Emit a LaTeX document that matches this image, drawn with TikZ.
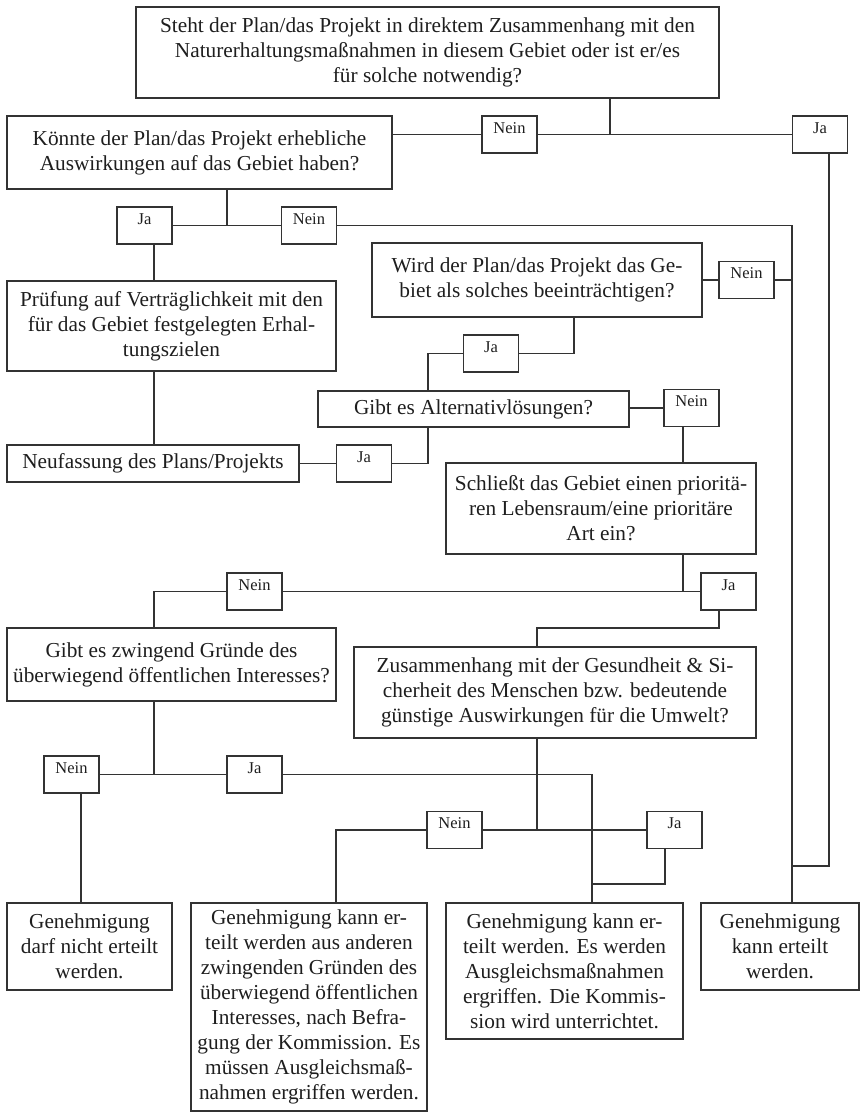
\documentclass[tikz,border=0pt]{standalone}
\usepackage{fontspec}
\setmainfont{Liberation Serif}
\definecolor{lc}{HTML}{333333}
\definecolor{tc}{HTML}{1E1E1E}
\tikzset{
  box/.style={draw=lc, line width=1.3pt, inner sep=0pt, align=center, text=tc,
    font=\fontsize{21.3}{25}\selectfont},
  lab/.style={draw=lc, line width=1.2pt, inner sep=0pt, minimum width=55pt,
    text height=17pt, text depth=20pt, text=tc, font=\fontsize{16.5}{18}\selectfont},
  wire/.style={draw=lc, line width=1.1pt},
}
\begin{document}
\begin{tikzpicture}[x=1pt,y=-1pt]
\useasboundingbox (0,0) rectangle (861,1113);
% main boxes
\node[box, minimum width=583pt, minimum height=91pt] (q1) at (427.5,52.5)
  {Steht der Plan/das Projekt in direktem Zusammenhang mit den\\ Naturerhaltungsmaßnahmen in diesem Gebiet oder ist er/es\\ für solche notwendig?};
\node[box, minimum width=385pt, minimum height=73pt] (q2) at (199.5,152.5)
  {Könnte der Plan/das Projekt erhebliche\\ Auswirkungen auf das Gebiet haben?};
\node[box, minimum width=329pt, minimum height=90pt] (pruef) at (171.5,326)
  {Prüfung auf Verträglichkeit mit den\\ für das Gebiet festgelegten Erhal-\\ tungszielen};
\node[box, minimum width=292pt, minimum height=37pt] (neuf) at (153,463.5)
  {Neufassung des Plans/Projekts};
\node[box, minimum width=330pt, minimum height=74pt] (wird) at (537,280)
  {Wird der Plan/das Projekt das Ge-\\ biet als solches beeinträchtigen?};
\node[box, minimum width=311pt, minimum height=36pt] (alt) at (473.5,409)
  {Gibt es Alternativlösungen?};
\node[box, minimum width=310pt, minimum height=91pt] (schl) at (601,508.5)
  {Schließt das Gebiet einen prioritä-\\ ren Lebensraum/eine prioritäre\\ Art ein?};
\node[box, minimum width=329pt, minimum height=73pt] (gibt) at (171.5,664.5)
  {Gibt es zwingend Gründe des\\ überwiegend öffentlichen Interesses?};
\node[box, minimum width=402pt, minimum height=91pt] (zus) at (555,692.5)
  {Zusammenhang mit der Gesundheit \& Si-\\ cherheit des Menschen bzw. bedeutende\\ günstige Auswirkungen für die Umwelt?};
\node[box, minimum width=165pt, minimum height=87pt] (end1) at (89.5,946.5)
  {Genehmigung\\ darf nicht erteilt\\ werden.};
\node[box, minimum width=236pt, minimum height=208pt] (end2) at (309,1007)
  {Genehmigung kann er-\\ teilt werden aus anderen\\ zwingenden Gründen des\\ überwiegend öffentlichen\\ Interesses, nach Befra-\\ gung der Kommission. Es\\ müssen Ausgleichsmaß-\\ nahmen ergriffen werden.};
\node[box, minimum width=237pt, minimum height=136pt] (end3) at (564.5,971)
  {Genehmigung kann er-\\ teilt werden. Es werden\\ Ausgleichsmaßnahmen\\ ergriffen. Die Kommis-\\ sion wird unterrichtet.};
\node[box, minimum width=158pt, minimum height=87pt] (end4) at (780,946.5)
  {Genehmigung\\ kann erteilt\\ werden.};
% answer boxes
\node[lab] (n1) at (509.5,134.5) {Nein};
\node[lab] (j1) at (820,134.5) {Ja};
\node[lab] (j2) at (144.5,225.5) {Ja};
\node[lab] (n2) at (309,225.5) {Nein};
\node[lab] (n3) at (746.5,280) {Nein};
\node[lab] (j3) at (491,353.5) {Ja};
\node[lab] (n4) at (691.5,408) {Nein};
\node[lab] (j4) at (364,463.5) {Ja};
\node[lab] (n5) at (254.5,591.5) {Nein};
\node[lab] (j5) at (728.5,591.5) {Ja};
\node[lab] (n6) at (71.5,774.5) {Nein};
\node[lab] (j6) at (254.5,774.5) {Ja};
\node[lab] (n7) at (454.5,830) {Nein};
\node[lab] (j7) at (674.5,830) {Ja};
% junction coordinates
\coordinate (k1) at (610,134.5);
\coordinate (k2) at (829,866);
\coordinate (k3) at (792,225.5);
\coordinate (k4) at (227,225.5);
\coordinate (k5) at (154,0);
\coordinate (k6) at (428,463.5);
\coordinate (k7) at (574,353.5);
\coordinate (k8) at (683,591.5);
\coordinate (k9) at (719,628);
\coordinate (k10) at (537,628);
\coordinate (k11) at (592,774.5);
\coordinate (k12) at (81,0);
\coordinate (k13) at (336,830);
\coordinate (k14) at (665,884);
% connectors
\draw[wire] (k1 |- q1.south) -- (k1);
\draw[wire] (q2.east |- n1) -- (n1.west);
\draw[wire] (n1.east) -- (j1.west);
\draw[wire] (k2 |- j1.south) -- (k2) -- (k3 |- k2);
\draw[wire] (k4 |- q2.south) -- (k4);
\draw[wire] (j2.east) -- (n2.west);
\draw[wire] (n2.east) -- (k3) -- (k3 |- end4.north);
\draw[wire] (k5 |- j2.south) -- (k5 |- pruef.north);
\draw[wire] (k5 |- pruef.south) -- (k5 |- neuf.north);
\draw[wire] (neuf.east) -- (j4.west);
\draw[wire] (j4.east) -- (k6) -- (k6 |- alt.south);
\draw[wire] (wird.east |- n3) -- (n3.west);
\draw[wire] (n3.east) -- (k3 |- n3);
\draw[wire] (k7 |- wird.south) -- (k7) -- (j3.east);
\draw[wire] (j3.west) -- (k6 |- j3) -- (k6 |- alt.north);
\draw[wire] (alt.east |- n4) -- (n4.west);
\draw[wire] (k8 |- n4.south) -- (k8 |- schl.north);
\draw[wire] (k8 |- schl.south) -- (k8);
\draw[wire] (n5.east) -- (j5.west);
\draw[wire] (n5.west) -- (k5 |- n5) -- (k5 |- gibt.north);
\draw[wire] (k9 |- j5.south) -- (k9) -- (k10) -- (k10 |- zus.north);
\draw[wire] (k5 |- gibt.south) -- (k5 |- n6);
\draw[wire] (n6.east) -- (j6.west);
\draw[wire] (j6.east) -- (k11) -- (k11 |- end3.north);
\draw[wire] (k12 |- n6.south) -- (k12 |- end1.north);
\draw[wire] (k10 |- zus.south) -- (k10 |- n7);
\draw[wire] (n7.east) -- (j7.west);
\draw[wire] (n7.west) -- (k13) -- (k13 |- end2.north);
\draw[wire] (k14 |- j7.south) -- (k14) -- (k11 |- k14);
\end{tikzpicture}
\end{document}
